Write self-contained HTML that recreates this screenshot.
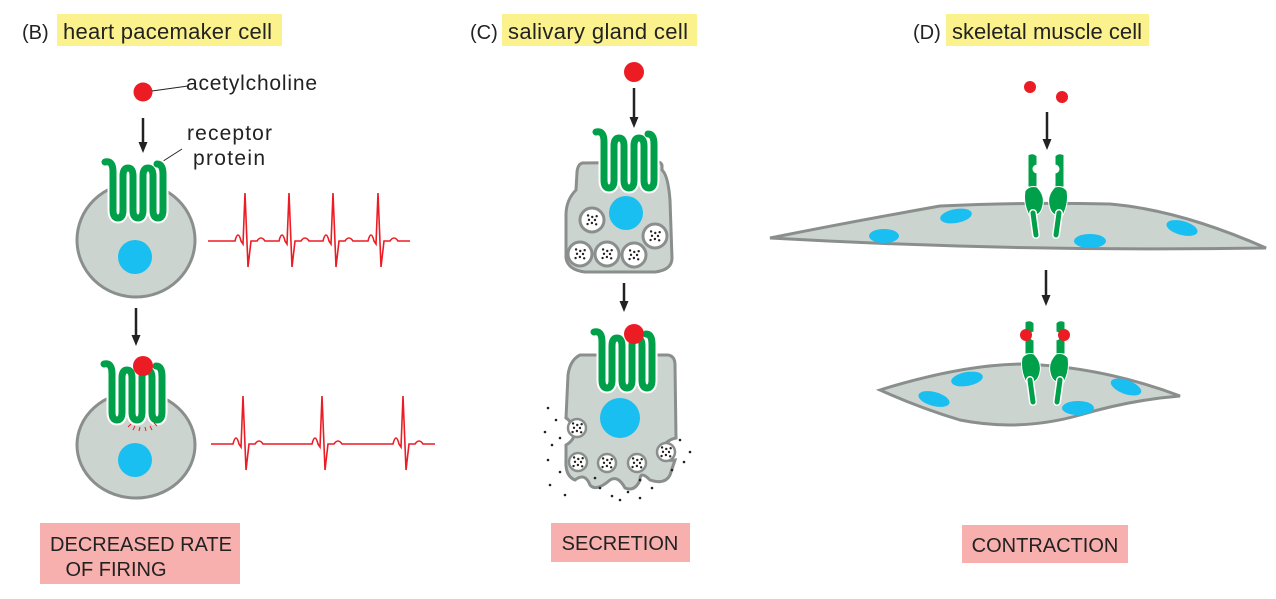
<!DOCTYPE html>
<html><head><meta charset="utf-8"><style>
body{margin:0;background:#fff}
svg{display:block;font-family:"Liberation Sans",sans-serif}
</style></head><body>
<svg id="s" width="1276" height="599" viewBox="0 0 1276 599">
<defs>
<g id="rec">
<path d="M0,2 Q8,0 8,12 V50 Q8,58 13,58 Q18,58 18,50 V16 Q18,8 23,8 Q28,8 28,16 V50 Q28,58 33,58 Q38,58 38,50 V16 Q38,8 43,8 Q48,8 48,16 V50 Q48,58 53,58 Q58,58 58,50 V14 Q58,4 52,4" fill="none" stroke="#fff" stroke-width="11" stroke-linecap="round"/>
<path d="M0,2 Q8,0 8,12 V50 Q8,58 13,58 Q18,58 18,50 V16 Q18,8 23,8 Q28,8 28,16 V50 Q28,58 33,58 Q38,58 38,50 V16 Q38,8 43,8 Q48,8 48,16 V50 Q48,58 53,58 Q58,58 58,50 V14 Q58,4 52,4" fill="none" stroke="#00a04a" stroke-width="7" stroke-linecap="round"/>
</g>
<g id="nic">
<path d="M-5,0 Q0,-3 4,1 V10 A4,4 0 0 0 4,18 V32 L-5,32 Z" fill="#00a04a" stroke="#fff" stroke-width="1"/>
<path d="M-8,36 Q-4,30 4,32 Q12,40 10,50 Q8,60 2,60 L-4,60 Q-10,48 -8,36 Z" fill="#00a04a" stroke="#fff" stroke-width="1"/>
<path d="M0,58 L3,80" stroke="#fff" stroke-width="8" stroke-linecap="round"/>
<path d="M0,58 L3,80" stroke="#00a04a" stroke-width="5" stroke-linecap="round"/>
</g>
</defs>

<!-- Panel B -->
<text x="22" y="39" font-size="20" fill="#222">(B)</text>
<rect x="57" y="14" width="225" height="32" fill="#fbf28e"/>
<text x="63" y="39" font-size="22" fill="#222" textLength="209">heart pacemaker cell</text>
<circle cx="143" cy="92" r="9.5" fill="#ec1c24"/>
<line x1="152" y1="91" x2="188" y2="86" stroke="#222" stroke-width="1"/>
<text x="186" y="90" font-size="21" fill="#222" textLength="131">acetylcholine</text>
<g><line x1="143" y1="118" x2="143" y2="143" stroke="#222" stroke-width="2.5"/><polygon points="138.5,142 147.5,142 143,153" fill="#222"/></g>
<text x="187" y="140" font-size="21" fill="#222" textLength="85">receptor</text>
<text x="193" y="165" font-size="21" fill="#222" textLength="72">protein</text>
<line x1="182" y1="149" x2="157" y2="165" stroke="#222" stroke-width="1"/>
<ellipse cx="136" cy="240" rx="59" ry="57" fill="#ccd4d0" stroke="#8a8f8d" stroke-width="3"/>
<circle cx="135" cy="257" r="17" fill="#18bff0"/>
<use href="#rec" x="105" y="160"/>
<g><line x1="136" y1="308" x2="136" y2="336" stroke="#222" stroke-width="2.5"/><polygon points="131.5,335 140.5,335 136,346" fill="#222"/></g>
<ellipse cx="136" cy="445" rx="59" ry="53" fill="#ccd4d0" stroke="#8a8f8d" stroke-width="3"/>
<circle cx="135" cy="460" r="17" fill="#18bff0"/>
<use href="#rec" x="104" y="362"/>
<circle cx="143" cy="366" r="10" fill="#ec1c24"/>
<g stroke="#ec1c24" stroke-width="1">
<line x1="131" y1="424" x2="128" y2="427"/><line x1="135" y1="426" x2="133" y2="430"/><line x1="140" y1="427" x2="139" y2="431"/><line x1="145" y1="427" x2="146" y2="431"/><line x1="150" y1="426" x2="152" y2="430"/><line x1="154" y1="423" x2="157" y2="426"/></g>
<path id="ecg1" fill="none" stroke="#ec1c24" stroke-width="1.6"/>
<path id="ecg2" fill="none" stroke="#ec1c24" stroke-width="1.6"/>
<rect x="40" y="523" width="200" height="61" fill="#f7b0ae"/>
<text x="141" y="551" font-size="20" fill="#222" text-anchor="middle">DECREASED RATE</text>
<text x="116" y="576" font-size="20" fill="#222" text-anchor="middle">OF FIRING</text>

<!-- Panel C -->
<text x="470" y="39" font-size="20" fill="#222">(C)</text>
<rect x="502" y="14" width="195" height="32" fill="#fbf28e"/>
<text x="508" y="39" font-size="22" fill="#222" textLength="180">salivary gland cell</text>
<circle cx="634" cy="72" r="10" fill="#ec1c24"/>
<g><line x1="634" y1="88" x2="634" y2="118" stroke="#222" stroke-width="2.5"/><polygon points="629.5,117 638.5,117 634,128" fill="#222"/></g>
<path d="M585,163 Q578,162 577,172 L576,190 Q566,200 566,215 L566,258 Q568,270 585,272 L655,272 Q672,270 672,258 L670,200 Q668,175 662,170 L662,165 Q660,160 650,162 Z" fill="#ccd4d0" stroke="#8a8f8d" stroke-width="3"/>
<use href="#rec" x="596" y="130"/>
<circle cx="626" cy="213" r="17" fill="#18bff0"/>
<g fill="#fff" stroke="#8a8f8d" stroke-width="3">
<circle cx="592" cy="220" r="12"/><circle cx="580" cy="254" r="12"/><circle cx="607" cy="254" r="12"/><circle cx="634" cy="255" r="12"/><circle cx="655" cy="236" r="12"/></g>
<g><line x1="624" y1="283" x2="624" y2="302" stroke="#222" stroke-width="2.5"/><polygon points="619.5,301 628.5,301 624,312" fill="#222"/></g>
<path d="M580,355 L668,355 Q675,356 675,365 L676,438 Q665,440 660,452 Q662,462 675,460 L670,475 Q665,485 650,480 Q640,470 640,480 Q635,492 625,488 Q618,475 610,480 Q596,492 590,485 Q585,472 575,480 Q565,476 566,460 L566,445 Q575,440 575,430 Q570,420 566,418 L568,375 Q570,360 580,355 Z" fill="#ccd4d0" stroke="#8a8f8d" stroke-width="3"/>
<use href="#rec" x="594" y="330"/>
<circle cx="634" cy="334" r="10" fill="#ec1c24"/>
<circle cx="620" cy="418" r="20" fill="#18bff0"/>
<g fill="#fff" stroke="#8a8f8d" stroke-width="2.5"><circle cx="577" cy="428" r="9"/><circle cx="578" cy="462" r="9"/><circle cx="607" cy="463" r="9"/><circle cx="637" cy="463" r="9"/><circle cx="666" cy="452" r="9"/></g>
<g id="dots1" fill="#222"></g>
<rect x="551" y="523" width="139" height="39" fill="#f7b0ae"/>
<text x="620" y="550" font-size="20" fill="#222" text-anchor="middle">SECRETION</text>

<!-- Panel D -->
<text x="913" y="39" font-size="20" fill="#222">(D)</text>
<rect x="946" y="14" width="203" height="32" fill="#fbf28e"/>
<text x="952" y="39" font-size="22" fill="#222" textLength="190">skeletal muscle cell</text>
<circle cx="1030" cy="87" r="6" fill="#ec1c24"/>
<circle cx="1062" cy="97" r="6" fill="#ec1c24"/>
<g><line x1="1047" y1="112" x2="1047" y2="140" stroke="#222" stroke-width="2.5"/><polygon points="1042.5,139 1051.5,139 1047,150" fill="#222"/></g>
<path d="M770,238 Q850,222 940,206 Q1020,202 1110,204 Q1180,210 1266,248 Q1020,252 770,238 Z" fill="#ccd4d0" stroke="#8a8f8d" stroke-width="3"/>
<g fill="#18bff0"><ellipse cx="884" cy="236" rx="15" ry="7"/><ellipse cx="956" cy="216" rx="16" ry="7" transform="rotate(-10 956 216)"/><ellipse cx="1090" cy="241" rx="16" ry="7"/><ellipse cx="1182" cy="228" rx="16" ry="7" transform="rotate(15 1182 228)"/></g>
<g transform="translate(1033,155)"><use href="#nic"/></g>
<g transform="translate(1059,155) scale(-1,1)"><use href="#nic"/></g>
<g><line x1="1046" y1="270" x2="1046" y2="296" stroke="#222" stroke-width="2.5"/><polygon points="1041.5,295 1050.5,295 1046,306" fill="#222"/></g>
<path d="M880,390 Q960,365 1020,364 Q1100,366 1180,396 Q1130,400 1080,415 Q1020,432 960,420 Q920,408 880,390 Z" fill="#ccd4d0" stroke="#8a8f8d" stroke-width="3"/>
<g fill="#18bff0"><ellipse cx="934" cy="399" rx="16" ry="7" transform="rotate(15 934 399)"/><ellipse cx="967" cy="379" rx="16" ry="7" transform="rotate(-10 967 379)"/><ellipse cx="1078" cy="408" rx="16" ry="7"/><ellipse cx="1126" cy="387" rx="16" ry="7" transform="rotate(20 1126 387)"/></g>
<g transform="translate(1030,322)"><use href="#nic"/></g>
<g transform="translate(1060,322) scale(-1,1)"><use href="#nic"/></g>
<circle cx="1026" cy="335" r="6" fill="#ec1c24"/>
<circle cx="1064" cy="335" r="6" fill="#ec1c24"/>
<rect x="962" y="525" width="166" height="38" fill="#f7b0ae"/>
<text x="1045" y="552" font-size="20" fill="#222" text-anchor="middle">CONTRACTION</text>
</svg>
<script>
const beatsFast=[245,289,333,378];
const beatsSlow=[243,322,403];
function ecg(beats,x0,x1,y){
  let d="M"+x0+","+y;
  beats.forEach(b=>{
    d+=" L"+(b-10)+","+y+" Q"+(b-7)+","+(y-12)+" "+(b-4)+","+y+" L"+(b-2)+","+(y+3)+" L"+b+","+(y-48)+" L"+(b+3)+","+(y+26)+" L"+(b+6)+","+y+" L"+(b+12)+","+y+" Q"+(b+16)+","+(y-6)+" "+(b+20)+","+y;
  });
  return d+" L"+x1+","+y;
}
document.getElementById('ecg1').setAttribute('d',ecg(beatsFast,208,410,241));
document.getElementById('ecg2').setAttribute('d',ecg(beatsSlow,211,435,444));
const ves=[[592,220],[580,254],[607,254],[634,255],[655,236],[577,428],[578,462],[607,463],[637,463],[666,452]];
const g=document.getElementById('dots1');
ves.forEach(v=>{for(let i=0;i<8;i++){const a=i*0.8,r=i%2?6:3;const c=document.createElementNS('http://www.w3.org/2000/svg','circle');


c.setAttribute('cx',v[0]+r*Math.cos(a));c.setAttribute('cy',v[1]+r*Math.sin(a));c.setAttribute('r',1.2);g.appendChild(c);}});
const out=[[548,408],[556,420],[545,432],[552,445],[548,460],[560,472],[550,485],[565,495],[600,488],[612,496],[628,492],[640,498],[652,488],[620,500],[680,440],[690,452],[684,462],[672,470],[560,438],[595,478],[640,480]];
out.forEach(p=>{const c=document.createElementNS('http://www.w3.org/2000/svg','circle');


c.setAttribute('cx',p[0]);c.setAttribute('cy',p[1]);c.setAttribute('r',1.3);g.appendChild(c);});
</script>
</body></html>
